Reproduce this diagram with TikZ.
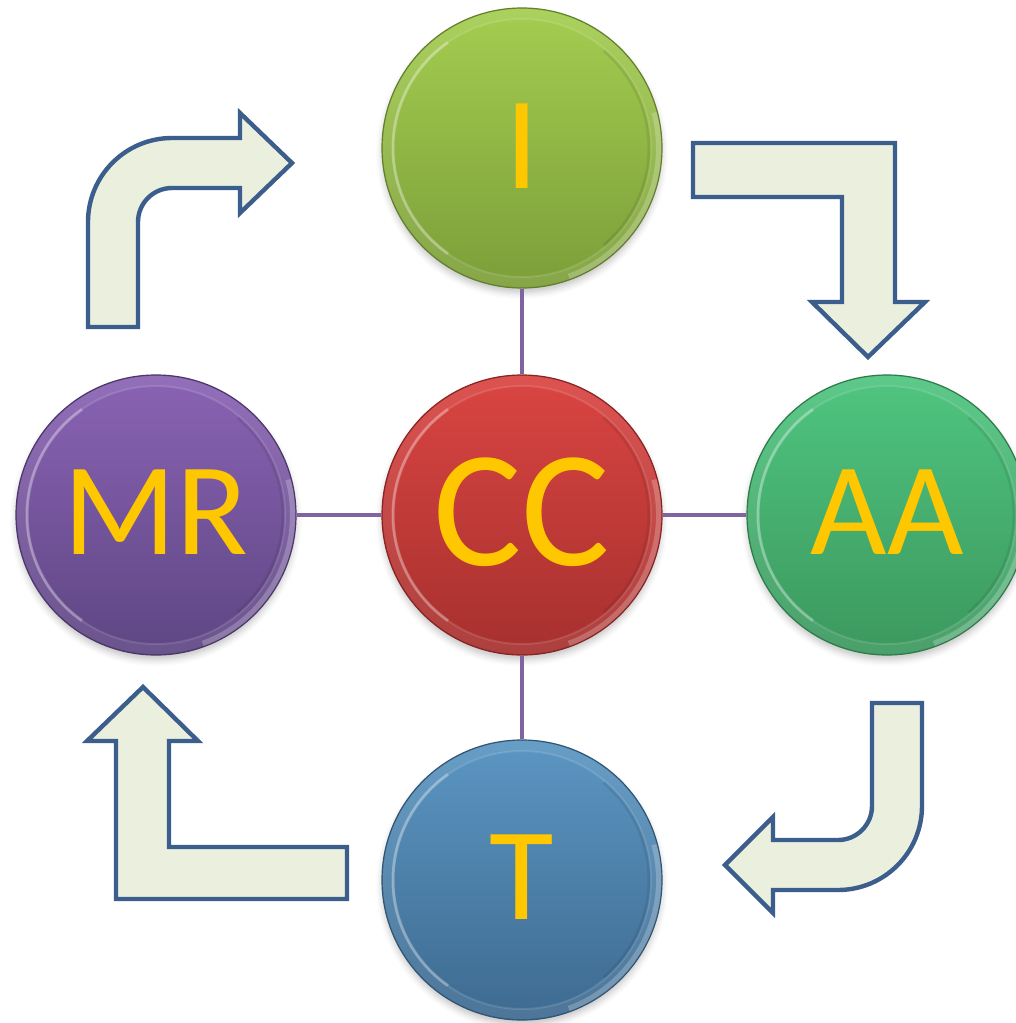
\documentclass[tikz,border=0pt]{standalone}
\usepackage{fontspec}
\setmainfont{Carlito}
\usetikzlibrary{shadows.blur}

\definecolor{txtyellow}{HTML}{FFC700}
\definecolor{linkpurple}{HTML}{8064A2}
\definecolor{arrowfill}{HTML}{EBF0DE}
\definecolor{arrowline}{HTML}{3B5E8C}
\definecolor{greenA}{HTML}{A4CD50}
\definecolor{greenB}{HTML}{7C9E39}
\definecolor{redA}{HTML}{DA4542}
\definecolor{redB}{HTML}{A6302E}
\definecolor{emeraldA}{HTML}{4FC580}
\definecolor{emeraldB}{HTML}{3C985E}
\definecolor{purpleA}{HTML}{8A63B4}
\definecolor{purpleB}{HTML}{5E4683}
\definecolor{blueA}{HTML}{5B96C2}
\definecolor{blueB}{HTML}{3E6A90}

\tikzset{
  ball/.style n args={3}{
    circle, minimum size=140pt, inner sep=0pt,
    top color=#1, bottom color=#2, draw=#3, line width=0.6pt,
    text=txtyellow, font=\fontsize{66}{66}\selectfont,
    blur shadow={shadow xshift=0pt, shadow yshift=-2.5pt,
      shadow blur radius=3pt, shadow opacity=22},
    path picture={
      \coordinate (pc) at (path picture bounding box.center);
      % soft bevel rim
      \draw[white, opacity=0.08, line width=5pt] (pc) circle[radius=67pt];
      \draw[white, opacity=0.12, line width=1pt] (pc) circle[radius=64.5pt];
      \draw[white, opacity=0.28, line width=1.5pt]
        ([shift={(125:64.5pt)}]pc) arc[start angle=125, end angle=235, radius=64.5pt];
      \draw[white, opacity=0.22, line width=3pt]
        ([shift={(-70:68.5pt)}]pc) arc[start angle=-70, end angle=15, radius=68.5pt];
      \draw[black, opacity=0.08, line width=1.5pt]
        ([shift={(-50:63.5pt)}]pc) arc[start angle=-50, end angle=50, radius=63.5pt];
    }
  },
  link/.style={linkpurple, line width=2pt},
  turnarrow/.style={fill=arrowfill, draw=arrowline, line width=2.2pt, line join=miter}
}

\begin{document}
\begin{tikzpicture}[x=0.5pt, y=-0.5pt]
  \clip (0,0) rectangle (1016,1023);

  % circular arrows around the hub
  \path[turnarrow] (88,327) -- (88,222)
    .. controls (88,175.6) and (125.6,138) .. (172,138)
    -- (240,138) -- (240,113) -- (292,163) -- (240,213) -- (240,188)
    -- (172,188) .. controls (153.2,188) and (138,203.2) .. (138,222)
    -- (138,327) -- cycle;

  \path[turnarrow] (693,143) -- (895,143) -- (895,302) -- (925,302)
    -- (868,357) -- (812,302) -- (842,302) -- (842,197) -- (693,197) -- cycle;

  \path[turnarrow] (872,703) -- (922,703) -- (922,806)
    .. controls (922,852.4) and (884.4,890) .. (838,890)
    -- (773,890) -- (773,913) -- (725,865) -- (773,817) -- (773,840)
    -- (838,840) .. controls (856.8,840) and (872,824.8) .. (872,806) -- cycle;

  \path[turnarrow] (143,687) -- (198,741) -- (169,741) -- (169,847)
    -- (347,847) -- (347,899) -- (116,899) -- (116,741) -- (87,741) -- cycle;

  % hub and spokes
  \node[ball={greenA}{greenB}{greenB!80!black}] (i) at (522,148) {\raisebox{2pt}{I}};
  \node[ball={redA}{redB}{redB!80!black}, font=\fontsize{83}{83}\selectfont] (cc) at (522,515) {\raisebox{3.5pt}{CC}};
  \node[ball={emeraldA}{emeraldB}{emeraldB!80!black}] (aa) at (887,515) {\raisebox{2.5pt}{AA}};
  \node[ball={purpleA}{purpleB}{purpleB!80!black}] (mr) at (156,515) {\raisebox{2.5pt}{MR}};
  \node[ball={blueA}{blueB}{blueB!80!black}] (t) at (522,880) {\raisebox{2.5pt}{T}};

  \draw[link] (cc) -- (i);
  \draw[link] (cc) -- (aa);
  \draw[link] (cc) -- (mr);
  \draw[link] (cc) -- (t);
\end{tikzpicture}
\end{document}
